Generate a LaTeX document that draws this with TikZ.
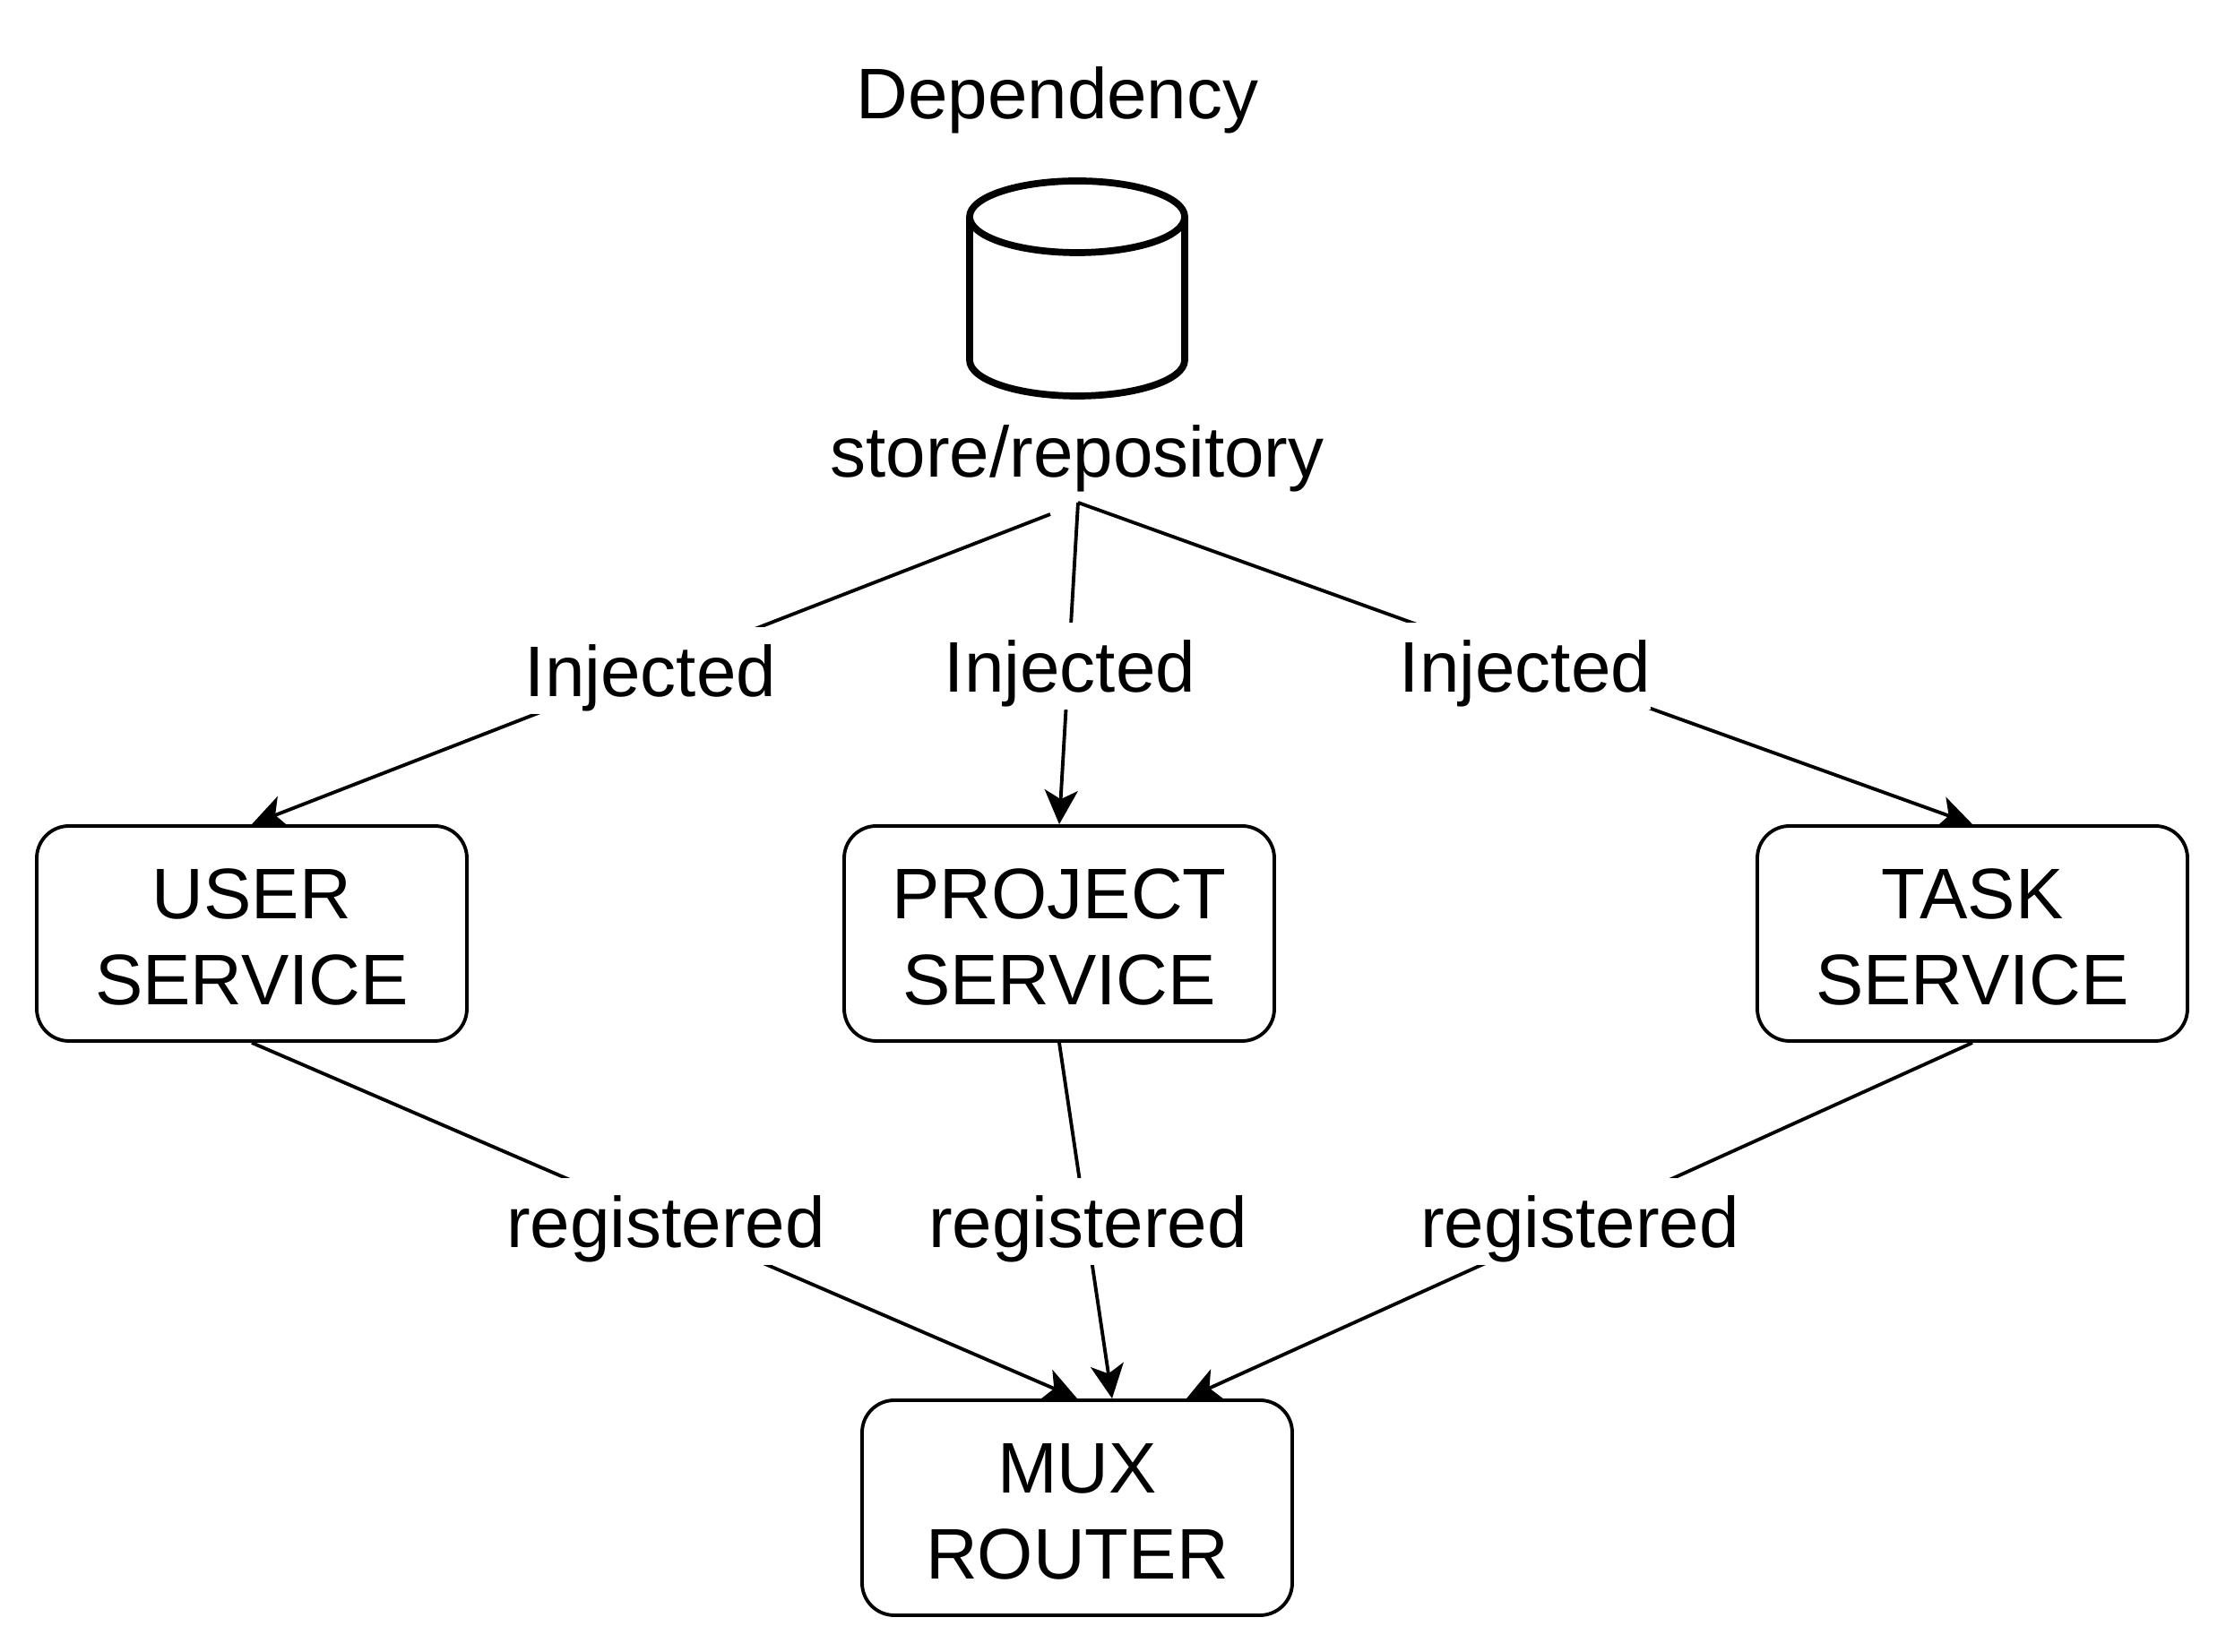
\documentclass[tikz,border=0pt]{standalone}
\usepackage{fontspec}
\setmainfont{Liberation Sans}
\usetikzlibrary{arrows.meta,backgrounds}
\tikzset{
  every node/.style={font=\fontsize{22.75}{27.2}\selectfont},
  svcbox/.style={draw, line width=1.1pt, fill=white, rounded corners=0.36cm, align=center,
    minimum width=4.80cm, minimum height=2.40cm, inner sep=0pt,
    execute at begin node={\rule{0pt}{1.59cm}}},
  edgelabel/.style={fill=white, anchor=base, inner xsep=0pt, inner ysep=0pt, text height=0.78cm, text depth=0.19cm},
  flow/.style={line width=1.1pt, -{Stealth[length=0.38cm, width=0.37cm, inset=0.10cm]}}
}
\begin{document}
\begin{tikzpicture}
\useasboundingbox (0,0) rectangle (24.84,18.44);
% store
\draw [line width=2.2pt, line join=round] (10.82,16.02) arc [start angle=180, end angle=0, x radius=1.20, y radius=0.40] -- (13.22,14.42) arc [start angle=0, end angle=-180, x radius=1.20, y radius=0.40] -- cycle;
\draw [line width=2.2pt] (10.82,16.02) arc [start angle=180, end angle=360, x radius=1.20, y radius=0.40];
\node [anchor=base] (dep) at (11.80,17.11) {Dependency};
\node [anchor=base] (store) at (12.02,13.11) {store/repository};
\coordinate (apex) at (12.03,12.83);
\coordinate (apexleft) at (11.72,12.70);
% services
\node [svcbox] (user) at (2.81,8.02) {USER\\SERVICE};
\node [svcbox] (project) at (11.82,8.02) {PROJECT\\SERVICE};
\node [svcbox] (task) at (22.01,8.02) {TASK\\SERVICE};
\node [svcbox] (mux) at (12.02,1.61) {MUX\\ROUTER};
\coordinate (muxmid) at ([xshift=0.39cm]mux.north);
\coordinate (muxright) at ([xshift=1.22cm]mux.north);
% labels
\node [edgelabel] (inj1) at (7.26,10.66) {Injected};
\node [edgelabel] (inj2) at (11.94,10.71) {Injected};
\node [edgelabel] (inj3) at (17.02,10.71) {Injected};
\node [edgelabel] (reg1) at (7.43,4.51) {registered};
\node [edgelabel] (reg2) at (12.14,4.51) {registered};
\node [edgelabel] (reg3) at (17.63,4.51) {registered};
\begin{scope}[on background layer]
\draw [flow] (apexleft) -- (user.north);
\draw [flow] (apex) -- (project.north);
\draw [flow] (apex) -- (task.north);
\draw [flow] (user.south) -- (mux.north);
\draw [flow] (project.south) -- (muxmid);
\draw [flow] (task.south) -- (muxright);
\end{scope}
\end{tikzpicture}
\end{document}
